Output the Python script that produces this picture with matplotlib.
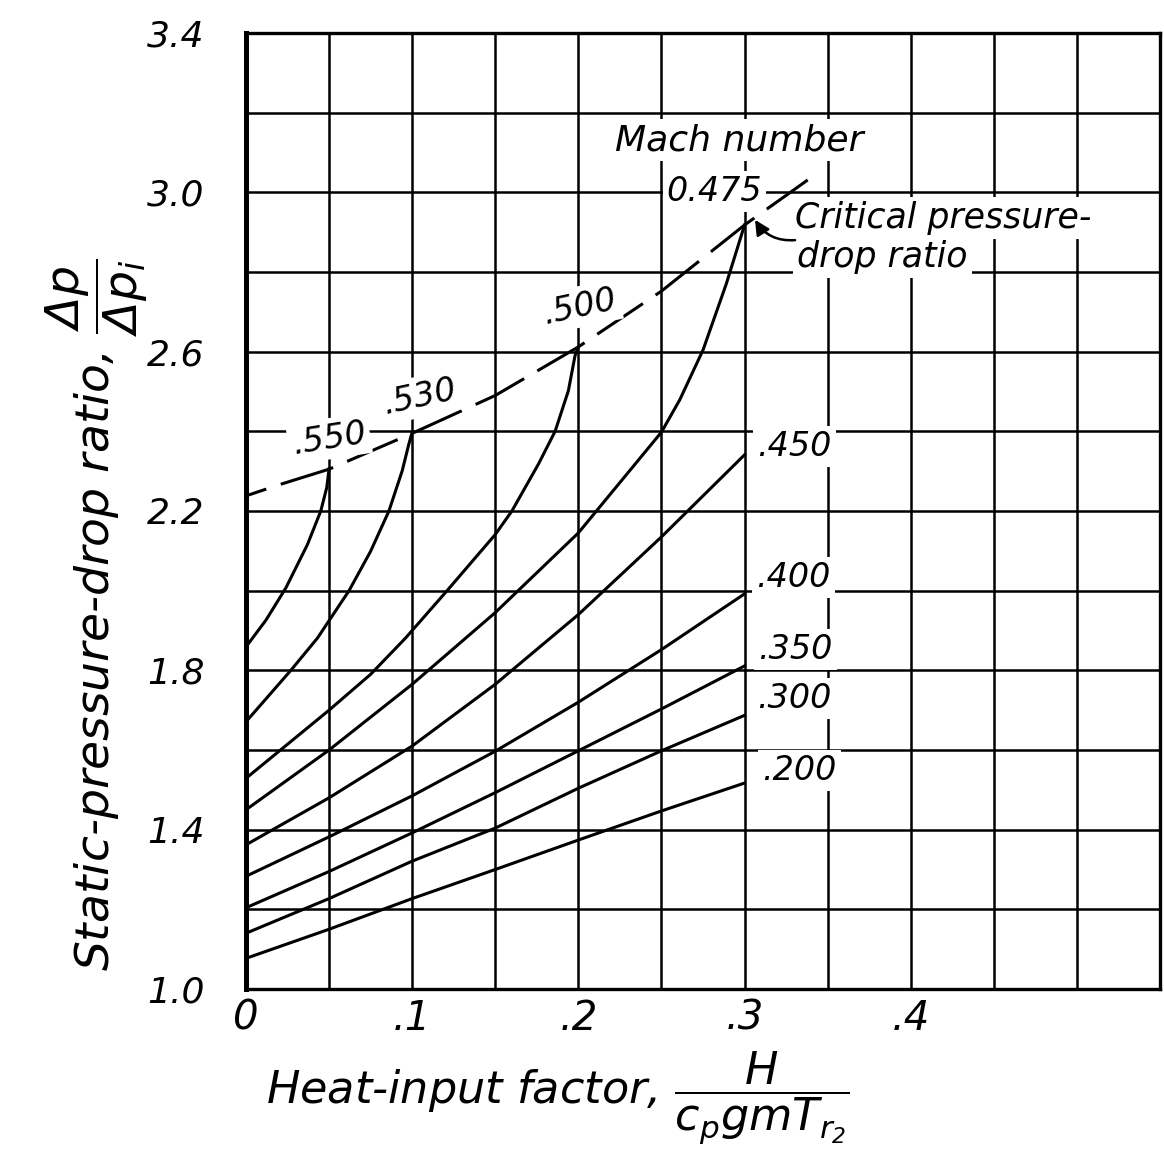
import numpy as np
import matplotlib
matplotlib.use("Agg")
import matplotlib.pyplot as plt

# heat-input factor (x) and static-pressure-drop ratio (y)
x_std = [0, 0.05, 0.10, 0.15, 0.20, 0.25, 0.30]
y_m200 = [1.077, 1.150, 1.227, 1.300, 1.374, 1.447, 1.517]
y_m300 = [1.140, 1.227, 1.321, 1.404, 1.504, 1.598, 1.687]
y_m350 = [1.204, 1.295, 1.392, 1.493, 1.598, 1.703, 1.811]
y_m400 = [1.283, 1.382, 1.485, 1.597, 1.720, 1.852, 1.992]
y_m450 = [1.362, 1.480, 1.610, 1.765, 1.940, 2.135, 2.341]

x_m475 = [0, 0.05, 0.10, 0.15, 0.20, 0.25, 0.261, 0.275, 0.289, 0.30]
y_m475 = [1.450, 1.600, 1.765, 1.945, 2.145, 2.398, 2.479, 2.604, 2.770, 2.918]

x_m500 = [0, 0.05, 0.075, 0.096, 0.121, 0.15, 0.16, 0.176, 0.186, 0.194, 0.198, 0.20]
y_m500 = [1.529, 1.700, 1.790, 1.881, 2.000, 2.141, 2.200, 2.318, 2.400, 2.502, 2.590, 2.612]

x_m530 = [0, 0.027, 0.043, 0.062, 0.075, 0.086, 0.094, 0.098, 0.10]
y_m530 = [1.671, 1.800, 1.881, 2.000, 2.099, 2.200, 2.301, 2.368, 2.398]

x_m550 = [0, 0.012, 0.024, 0.037, 0.045, 0.0486, 0.05]
y_m550 = [1.859, 1.926, 2.007, 2.116, 2.200, 2.259, 2.306]

# critical pressure-drop ratio (dashed)
x_crit = [0, 0.02, 0.05, 0.10, 0.15, 0.20, 0.25, 0.30, 0.338]
y_crit = [2.238, 2.266, 2.305, 2.395, 2.490, 2.612, 2.752, 2.918, 3.031]

mach_labels = [".200", ".300", ".350", ".400", ".450", "0.475", ".500", ".530", ".550"]

x_ticks = [0, 0.1, 0.2, 0.3, 0.4]
x_ticklabels = ["0", ".1", ".2", ".3", ".4"]
y_ticks = [1.0, 1.4, 1.8, 2.2, 2.6, 3.0, 3.4]
y_ticklabels = ["1.0", "1.4", "1.8", "2.2", "2.6", "3.0", "3.4"]

plt.rcParams["font.family"] = ["DejaVu Sans"]
plt.rcParams["font.style"] = "italic"
plt.rcParams["mathtext.fontset"] = "dejavusans"

W, H = 1164, 1160
fig = plt.figure(figsize=(W / 100, H / 100), dpi=100)
ax = fig.add_axes([246 / W, 1 - 989 / H, (1160 - 246) / W, (989 - 33) / H])
ax.set_xlim(0, 0.55)
ax.set_ylim(1.0, 3.4)

ax.set_xticks(np.arange(0, 0.5501, 0.05), minor=True)
ax.set_yticks(np.arange(1.0, 3.4001, 0.2), minor=True)
ax.set_xticks(x_ticks)
ax.set_xticklabels(x_ticklabels, fontsize=29, style="italic")
ax.set_yticks(y_ticks)
ax.set_yticklabels(y_ticklabels, fontsize=26, style="italic")
ax.tick_params(which="both", length=0)
ax.tick_params(axis="x", pad=7)
ax.tick_params(axis="y", pad=30)
ax.grid(which="both", color="black", lw=1.8)
ax.set_axisbelow(True)
for s in ax.spines.values():
    s.set_linewidth(2.4)
ax.spines["left"].set_linewidth(3.6)

lw = 2.2
series = [
    (x_std, y_m200), (x_std, y_m300), (x_std, y_m350), (x_std, y_m400),
    (x_std, y_m450), (x_m475, y_m475), (x_m500, y_m500), (x_m530, y_m530),
    (x_m550, y_m550),
]
for xs, ys in series:
    ax.plot(xs, ys, color="black", lw=lw, solid_joinstyle="round")

ax.plot(x_crit, y_crit, color="black", lw=lw, linestyle=(11, (18, 5)))

box = dict(boxstyle="square,pad=0.12", fc="white", ec="none")
# label offsets from curve ends, in pixels
offsets = [(55, 13), (50, 17), (51, 16), (49, 16), (50, 8),
           (-30, 33), (1, 40), (7, 35), (0, 30)]
rots = [0, 0, 0, 0, 0, 0, 12, 12, 9]
for (xs, ys), lab, off, rot in zip(series, mach_labels, offsets, rots):
    ax.annotate(lab, (xs[-1], ys[-1]), xytext=off, textcoords="offset pixels",
                ha="center", va="center", fontsize=24, rotation=rot, bbox=box)

ax.text(0.2967, 3.131, "Mach number", ha="center", va="center", fontsize=26, bbox=box)
ax.text(0.3304, 2.936, "Critical pressure-", ha="left", va="center", fontsize=25, bbox=box)
ax.text(0.3316, 2.838, "drop ratio", ha="left", va="center", fontsize=25, bbox=box)
ax.annotate("", xy=(0.3063, 2.931), xytext=(0.3304, 2.88),
            arrowprops=dict(arrowstyle="-|>", color="black", lw=1.8,
                            connectionstyle="arc3,rad=-0.3", mutation_scale=22,
                            shrinkA=0, shrinkB=0))

fig.text(558 / W, 1 - 1098 / H, r"Heat-input factor, $\dfrac{H}{c_p g m T_{r_2}}$",
         ha="center", va="center", fontsize=32)
fig.text(97 / W, 1 - 615 / H, r"Static-pressure-drop ratio, $\dfrac{\Delta p}{\Delta p_i}$",
         ha="center", va="center", fontsize=34, rotation=90)

fig.savefig("out.png", dpi=100)
